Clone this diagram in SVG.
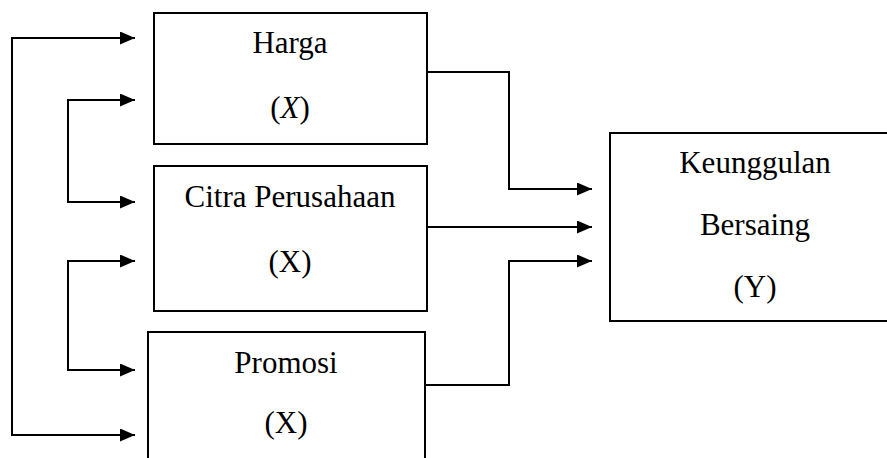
<svg xmlns="http://www.w3.org/2000/svg" width="887" height="458" viewBox="0 0 887 458">
<style>
.box{fill:#fff;stroke:#000;stroke-width:2}
.t{font-family:"Liberation Serif","Times New Roman",serif;font-size:31px;fill:#000;text-anchor:middle}
.c{fill:none;stroke:#000;stroke-width:2}
</style>
<defs>
<marker id="ah" markerWidth="15" markerHeight="13" refX="15" refY="6.5" orient="auto" markerUnits="userSpaceOnUse">
<path d="M0,0 L15,6.5 L0,13 Z" fill="#000"/>
</marker>
</defs>
<g id="connectors">
<path class="c" d="M135,38 H12 V435 H135" marker-end="url(#ah)"/>
<path class="c" d="M12,38 H135" marker-end="url(#ah)"/>
<path class="c" d="M68,202 V100 H135" marker-end="url(#ah)"/>
<path class="c" d="M68,100 V202 H135" marker-end="url(#ah)"/>
<path class="c" d="M68,370 V261 H135" marker-end="url(#ah)"/>
<path class="c" d="M68,261 V370 H135" marker-end="url(#ah)"/>
<path class="c" d="M427,72 H509 V189 H592" marker-end="url(#ah)"/>
<path class="c" d="M427,227 H592" marker-end="url(#ah)"/>
<path class="c" d="M425,385 H509 V261 H592" marker-end="url(#ah)"/>
</g>
<g id="harga">
<rect class="box" x="154" y="13" width="273" height="131"/>
<text class="t" x="290" y="53">Harga</text>
<text class="t" x="290" y="118">(<tspan font-style="italic">X</tspan>)</text>
</g>
<g id="citra">
<rect class="box" x="154" y="166" width="273" height="145"/>
<text class="t" x="290" y="207">Citra Perusahaan</text>
<text class="t" x="290" y="272">(X)</text>
</g>
<g id="promosi">
<rect class="box" x="148" y="332" width="277" height="140"/>
<text class="t" x="286" y="373">Promosi</text>
<text class="t" x="286" y="433">(X)</text>
</g>
<g id="keunggulan">
<rect class="box" x="610" y="133" width="286" height="188"/>
<text class="t" x="755" y="173">Keunggulan</text>
<text class="t" x="755" y="235">Bersaing</text>
<text class="t" x="755" y="297">(Y)</text>
</g>
</svg>
